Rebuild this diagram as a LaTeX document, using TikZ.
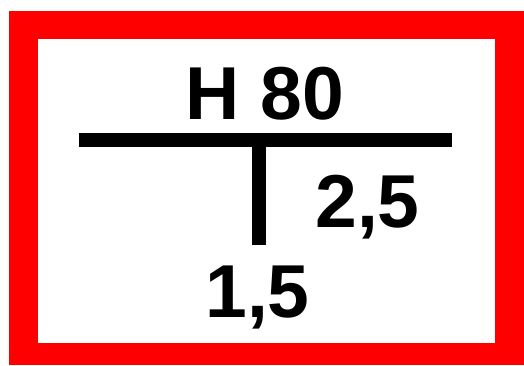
\documentclass[tikz,border=0pt]{standalone}
\usepackage{fontspec}
\setmainfont{Liberation Sans}
\definecolor{signred}{RGB}{255,0,0}
\tikzset{
  signtext/.style={font=\fontsize{75}{75}\selectfont\bfseries, inner sep=0pt, anchor=base, text=black},
  bar/.style={line width=14pt, black}
}
\begin{document}
\begin{tikzpicture}[x=1pt,y=-1pt]
\useasboundingbox (0,0) rectangle (524,365);
\fill[white] (0,0) rectangle (524,365);
\fill[signred] (9,11) rectangle (524,365);
\fill[white] (38,39) rectangle (495,343);
\coordinate (hl) at (79,140);
\coordinate (hr) at (452,140);
\coordinate (vt) at (258.5,140);
\coordinate (vb) at (258.5,245);
\draw[bar] (hl) -- (hr);
\draw[bar] (vt) -- (vb);
\node[signtext] (title) at (265,119) {H 80};
\node[signtext] (right) at (367.5,227) {2,5};
\node[signtext] (below) at (257.5,317) {1,5};
\end{tikzpicture}
\end{document}
